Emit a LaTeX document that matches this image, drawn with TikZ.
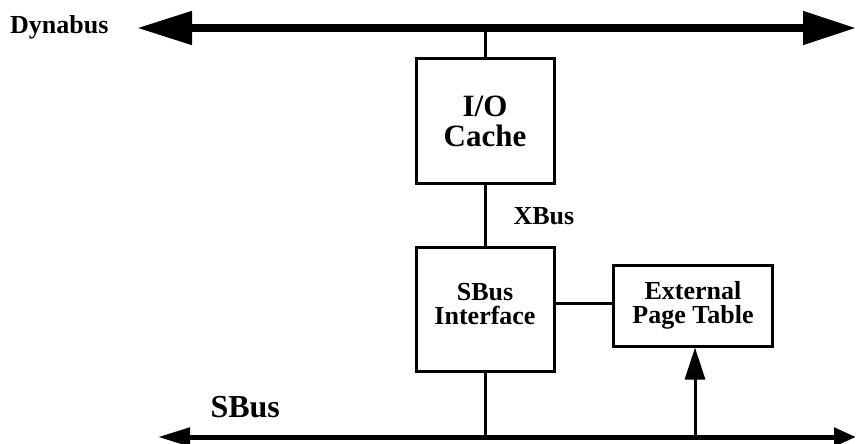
\documentclass[tikz,border=0pt]{standalone}
\usepackage{fontspec}
\setmainfont{Liberation Serif}
\usetikzlibrary{arrows.meta}
\begin{document}
\begin{tikzpicture}[x=1pt,y=-1pt,
  blk/.style={draw, line width=3pt, inner sep=0pt, align=center},
  wire/.style={line width=3pt},
  txt/.style={font=\bfseries\fontsize{26}{24}\selectfont}]
\useasboundingbox (0,0) rectangle (856,444);

% Dynabus
\coordinate (dynL) at (137,28);
\coordinate (dynR) at (856,28);
\draw[line width=8pt, {Triangle[length=55pt,width=32pt]}-{Triangle[length=53pt,width=32pt]}] (dynL) -- (dynR);
\node[txt, anchor=base east] (dynlbl) at (112,34) {Dynabus};

% Blocks
\node[blk, minimum width=138pt, minimum height=124pt,
      font=\bfseries\fontsize{31}{30}\selectfont] (cache) at (485,121) {I/O\\Cache};
\node[blk, minimum width=138pt, minimum height=124pt] (sbi) at (485,309) {};
\node[txt, align=center, inner sep=0pt] (sbitxt) at ([yshift=5pt]sbi.center) {SBus\\Interface};
\node[blk, txt, minimum width=159pt, minimum height=81pt] (ept) at (693,305.5) {External\\Page Table};

% XBus and connections
\draw[wire] (cache.north) -- (cache.north |- dynL);
\draw[wire] (cache.south) -- (sbi.north);
\node[txt, anchor=base west] (xlbl) at (510,224) {XBus};
\draw[wire] ([yshift=6pt]sbi.east) -- ([yshift=6pt]sbi.east -| ept.west);

% SBus
\coordinate (sbL) at (158,437);
\coordinate (sbR) at (856,437);
\draw[line width=5pt, {Triangle[length=32pt,width=18pt]}-{Triangle[length=22pt,width=18pt]}] (sbL) -- (sbR);
\node[anchor=base west, font=\bfseries\fontsize{32}{32}\selectfont] (sblbl) at (207,417) {SBus};
\draw[wire] (sbi.south) -- (sbi.south |- sbL);
\draw[line width=3pt, -{Triangle[length=32pt,width=20pt]}] ([xshift=2pt]ept.south |- sbL) -- ([xshift=2pt]ept.south);
\end{tikzpicture}
\end{document}
